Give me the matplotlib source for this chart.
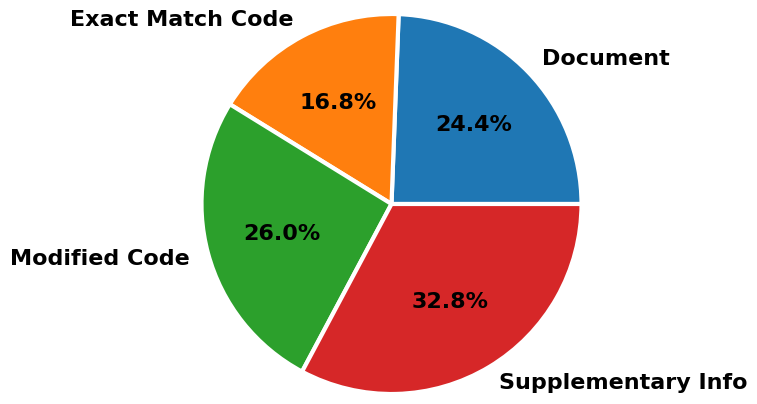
import matplotlib
matplotlib.use("Agg")
import matplotlib.pyplot as plt

labels = ["Document", "Exact Match Code", "Modified Code", "Supplementary Info"]
values = [24.4, 16.8, 26.0, 32.8]
colors = ["#1f77b4", "#ff7f0e", "#2ca02c", "#d62728"]

fig = plt.figure(figsize=(7.57, 4.04), dpi=100)
ax = fig.add_axes([0, 0, 1, 1])
wedges, texts, autotexts = ax.pie(
    values, labels=labels, colors=colors, autopct="%1.1f%%",
    startangle=0, wedgeprops=dict(edgecolor="white", linewidth=3),
    textprops=dict(fontsize=16, fontweight="bold"))
r = 190.0
ax.set_aspect("auto")
ax.set_xlim(-391.5 / r, 365.5 / r)
ax.set_ylim(-200 / r, 204 / r)
fig.savefig("out.png", dpi=100)
